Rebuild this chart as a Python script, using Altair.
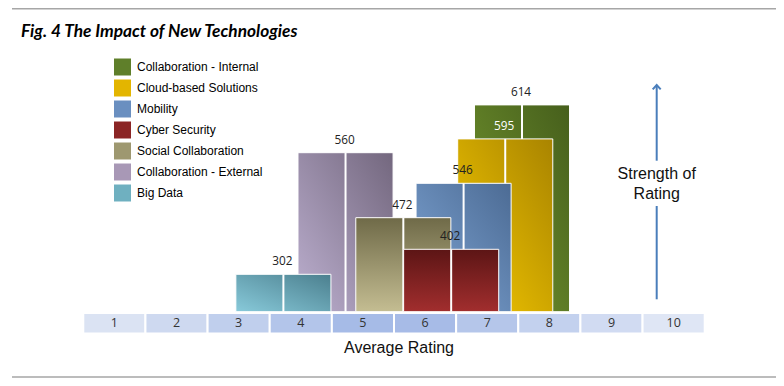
import altair as alt
import pandas as pd

# ---------------- data ----------------
technologies = [
    "Collaboration - Internal",
    "Cloud-based Solutions",
    "Mobility",
    "Cyber Security",
    "Social Collaboration",
    "Collaboration - External",
    "Big Data",
]
avg_rating = [7.56, 7.29, 6.62, 6.42, 5.65, 4.72, 3.72]
responses = [614, 595, 546, 402, 472, 560, 302]
strength = [103.4, 86.4, 64.2, 31.2, 47.0, 79.5, 18.7]
rating_ticks = [1, 2, 3, 4, 5, 6, 7, 8, 9, 10]

# drawing order (back to front)
draw_order = [
    "Collaboration - Internal",
    "Cloud-based Solutions",
    "Mobility",
    "Collaboration - External",
    "Big Data",
    "Social Collaboration",
    "Cyber Security",
]

# ---------------- styles ----------------
flat_colors = ["#5f7f2a", "#e3b500", "#6a8fc0", "#8b2525", "#9e9870", "#a898b6", "#6fb0c0"]


def grad(c0, c1, x1=0, y1=1, x2=1, y2=0):
    return alt.LinearGradient(
        gradient="linear",
        stops=[alt.GradientStop(color=c0, offset=0), alt.GradientStop(color=c1, offset=1)],
        x1=x1, y1=y1, x2=x2, y2=y2,
    )


fills = {
    "Collaboration - Internal": grad("#75982f", "#465f1c"),
    "Cloud-based Solutions": grad("#f6ca00", "#a98400"),
    "Mobility": grad("#80a7d7", "#4c6b94"),
    "Cyber Security": grad("#5c1515", "#a22e2e", 0, 0, 0, 1),
    "Social Collaboration": grad("#6f6a48", "#c4bd92", 0, 0, 0, 1),
    "Collaboration - External": grad("#bdb0d0", "#73677e"),
    "Big Data": grad("#88cada", "#4b7f8e"),
}
HALF = 0.765  # half bar width in rating units

df = pd.DataFrame({
    "tech": technologies,
    "rating": avg_rating,
    "responses": responses,
    "strength": strength,
})
ticks_df = pd.DataFrame({"tick": rating_ticks})
ann = pd.DataFrame({"a": [0]})

XS = alt.Scale(domain=[0.5, 10.5], range=[75.3, 696.7], nice=False, zero=False)
YS = alt.Scale(domain=[0, 150], range=[303.7, 3.7], nice=False, zero=False)

base = alt.Chart(df).transform_calculate(
    lo=f"datum.rating - {HALF}", hi=f"datum.rating + {HALF}", base="0"
)

layers = []

# frame lines and title
layers.append(alt.Chart(ann).mark_rule(color="#a6a6a6", strokeWidth=1.5).encode(
    x=alt.value(4), x2=alt.value(769), y=alt.value(0.75)))
layers.append(alt.Chart(ann).mark_rule(color="#a6a6a6", strokeWidth=1.5).encode(
    x=alt.value(4), x2=alt.value(769), y=alt.value(369)))
layers.append(alt.Chart(ann).mark_text(
    text="Fig. 4 The Impact of New Technologies", font="Lato", fontStyle="italic",
    fontWeight="bold", fontSize=17.3, align="left", baseline="alphabetic", color="black"
).encode(x=alt.value(13), y=alt.value(28.5)))

# bars
for t in draw_order:
    b = base.transform_filter(alt.datum.tech == t)
    layers.append(b.mark_rect(fill=fills[t], stroke="white", strokeWidth=1).encode(
        x=alt.X("lo:Q", scale=XS, axis=None), x2="hi:Q",
        y=alt.Y("base:Q", scale=YS, axis=None), y2="strength:Q"))
    layers.append(b.mark_rule(color="white", strokeWidth=2).encode(
        x=alt.X("rating:Q", scale=XS, axis=None),
        y=alt.Y("base:Q", scale=YS, axis=None), y2="strength:Q"))

# value labels
layers.append(base.mark_text(font="Open Sans", fontSize=11.8, dy=-13, dx=-1, baseline="middle").encode(
    x=alt.X("rating:Q", scale=XS, axis=None),
    y=alt.Y("strength:Q", scale=YS, axis=None),
    text="responses:Q",
    color=alt.condition("datum.tech === 'Cloud-based Solutions'", alt.value("white"), alt.value("#222222")),
))

# rating band
cells = alt.Chart(ticks_df).transform_calculate(lo="datum.tick - 0.5", hi="datum.tick + 0.5")
layers.append(cells.mark_rect(stroke="white", strokeWidth=2).encode(
    x=alt.X("lo:Q", scale=XS, axis=None), x2="hi:Q",
    y=alt.value(305), y2=alt.value(325.5),
    fill=alt.Fill("tick:Q", scale=alt.Scale(domain=[1, 5.5, 10], range=["#dbe3f3", "#a0b6e5", "#dfe6f5"]), legend=None),
))
layers.append(cells.mark_text(font="Open Sans", fontSize=12.5, color="#333333", baseline="middle").encode(
    x=alt.X("tick:Q", scale=XS, axis=None), y=alt.value(315.3), text="tick:Q"))

layers.append(alt.Chart(ann).mark_text(
    text="Average Rating", font="Liberation Sans", fontSize=16, color="#111111", baseline="middle"
).encode(x=alt.value(391), y=alt.value(339.7)))

# strength arrow
arrow_c = "#4a7ebb"
layers.append(alt.Chart(ann).mark_rule(color=arrow_c, strokeWidth=2).encode(
    x=alt.value(648.7), y=alt.value(78), y2=alt.value(152.7)))
layers.append(alt.Chart(ann).mark_rule(color=arrow_c, strokeWidth=2).encode(
    x=alt.value(648.7), y=alt.value(198), y2=alt.value(291.3)))
layers.append(alt.Chart(ann).mark_point(
    shape="M-1,1.1L0,0L1,1.1", filled=False, stroke=arrow_c, strokeWidth=2, size=64, opacity=1
).encode(x=alt.value(648.7), y=alt.value(77)))
layers.append(alt.Chart(ann).mark_text(
    text=["Strength of", "Rating"], font="Liberation Sans", fontSize=16, lineHeight=19.7,
    color="#111111", baseline="middle"
).encode(x=alt.value(648.7), y=alt.value(166.3)))

# legend carrier (invisible marks)
layers.append(alt.Chart(df).mark_square(opacity=0, size=4).encode(
    x=alt.X("rating:Q", scale=XS, axis=None),
    y=alt.Y("strength:Q", scale=YS, axis=None),
    color=alt.Color("tech:N", scale=alt.Scale(domain=technologies, range=flat_colors),
                    legend=alt.Legend(orient="none", legendX=106, legendY=50.5, title=None,
                                      symbolType="square", symbolSize=289, symbolOpacity=1,
                                      symbolStrokeWidth=0, labelFont="Liberation Sans",
                                      labelFontSize=12, labelColor="black", labelOffset=6,
                                      rowPadding=4, padding=0)),
))

chart = alt.layer(*layers).properties(
    width=768, height=370, autosize=alt.AutoSizeParams(type="none"), padding=0,
    background="white",
).configure_view(strokeWidth=0)

chart.save("out.html", embed_options={"renderer": "svg", "actions": False})
